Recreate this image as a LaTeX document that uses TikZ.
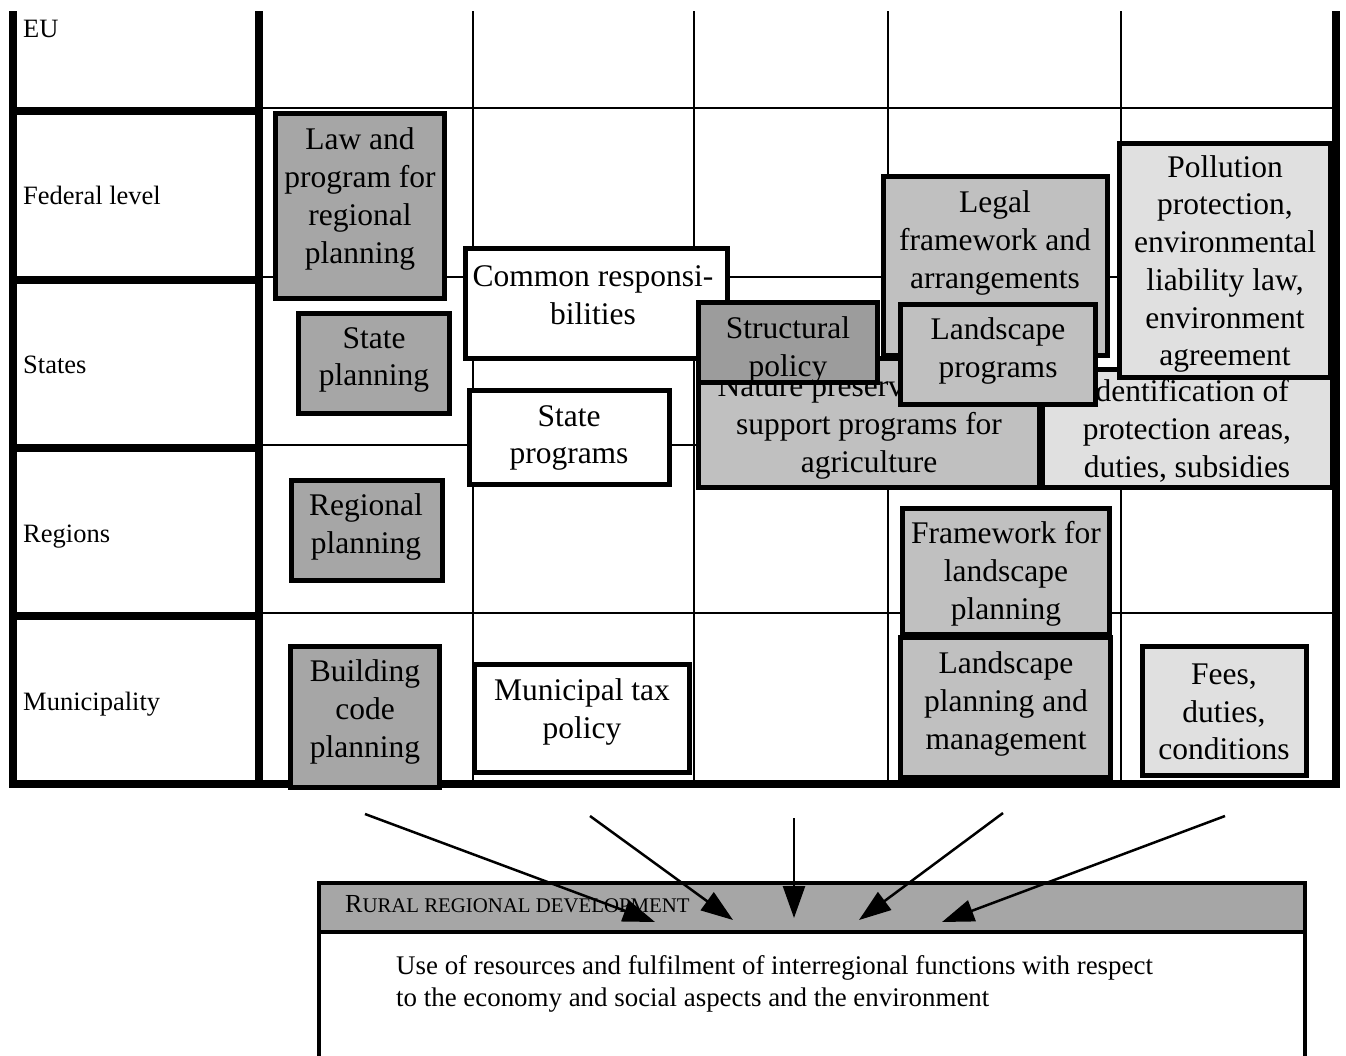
\documentclass[tikz,border=0pt]{standalone}
\usepackage{fontspec}
\setmainfont{Liberation Serif}
\usetikzlibrary{arrows.meta}
\definecolor{gdark}{HTML}{A6A6A6}
\definecolor{gstruct}{HTML}{9C9C9C}
\definecolor{gmid}{HTML}{C0C0C0}
\definecolor{glight}{HTML}{E0E0E0}
\newcommand\rrdBig[1]{{\fontsize{26}{30}\selectfont #1}}
\newcommand\rrdSmall[1]{{\fontsize{20.8}{30}\selectfont #1}}
\begin{document}
\begin{tikzpicture}[x=1pt,y=-1pt,
  thin grid/.style={line width=2pt},
  thick grid/.style={line width=7.5pt},
  cell/.style={draw=black, line width=5pt, line join=miter},
  boxtext/.style={inner sep=0pt, align=center, font=\fontsize{31.5}{37.7}\selectfont},
  rowlabel/.style={inner sep=0pt, anchor=base west, font=\fontsize{26.5}{30}\selectfont},
  arr/.style={line width=2.5pt, -{Triangle[length=32pt,width=22pt]}}
]
\useasboundingbox (0,0) rectangle (1346,1055);

% grid
\foreach \x in {473,694,888,1121} \draw[thin grid] (\x,11) -- (\x,784);
\foreach \y in {108,277,445,613} \draw[thin grid] (259,\y) -- (1336,\y);
\foreach \y in {111,280,448,616} \draw[thick grid] (13,\y) -- (259,\y);
\draw[thick grid] (13,11) -- (13,788);
\draw[thick grid] (259,11) -- (259,788);
\draw[thick grid] (1336,11) -- (1336,788);
\draw[thick grid] (9,784) -- (1340,784);

% row labels
\node[rowlabel] (eu) at (23,37) {EU};
\node[rowlabel] (fed) at (23,204) {Federal level};
\node[rowlabel] (states) at (23,373) {States};
\node[rowlabel] (regions) at (23,542) {Regions};
\node[rowlabel] (muni) at (23,710) {Municipality};

% boxes
\path[cell, fill=gdark] (275.5,113.5) rectangle (444.5,298.5);
\node[boxtext] (law) at (360,199) {Law and\\program for\\regional\\planning};

\path[cell, fill=gdark] (298.5,313.5) rectangle (449.5,413.5);
\node[boxtext] (stplan) at (374,360) {State\\planning};

\path[cell, fill=gdark] (291.5,480.5) rectangle (442.5,580.5);
\node[boxtext] (regplan) at (366,527) {Regional\\planning};

\path[cell, fill=gdark] (290.5,646.5) rectangle (439.5,787.5);
\node[boxtext] (build) at (365,712) {Building\\code\\planning};

\path[cell, fill=white] (465.5,248.5) rectangle (727.5,358.5);
\node[boxtext] (common) at (593,295) {Common responsi-\\bilities};

\path[cell, fill=white] (469.5,390.5) rectangle (669.5,484.5);
\node[boxtext] (stprog) at (569,438) {State\\programs};

\path[cell, fill=white] (474.5,664.5) rectangle (689.5,772.5);
\node[boxtext] (munic) at (582,712) {Municipal tax\\policy};

\path[cell, fill=glight] (1042.5,369.5) rectangle (1332.5,487.5);
\node[boxtext] (ident) at (1187,431) {Identification of\\protection areas,\\duties, subsidies};

\path[cell, fill=gmid] (698.5,358.5) rectangle (1039.5,487.5);
\node[boxtext] (nature) at (869,427) {Nature preservation and\\support programs for\\agriculture};

\path[cell, fill=gmid] (883.5,176.5) rectangle (1107.5,355.5);
\node[boxtext] (legal) at (995,243) {Legal\\framework and\\arrangements};

\path[cell, fill=gstruct] (698.5,302.5) rectangle (877.5,382.5);
\node[boxtext] (struct) at (788,350) {Structural\\policy};

\path[cell, fill=gmid] (900.5,304.5) rectangle (1095.5,404.5);
\node[boxtext] (lsprog) at (998,351) {Landscape\\programs};

\path[cell, fill=glight] (1119.5,143.5) rectangle (1330.5,377.5);
\node[boxtext] (poll) at (1225,264) {Pollution\\protection,\\environmental\\liability law,\\environment\\agreement};

\path[cell, fill=gmid] (902.5,508.5) rectangle (1109.5,634.5);
\node[boxtext] (flp) at (1006,574) {Framework for\\landscape\\planning};

\path[cell, fill=gmid] (900.5,637.5) rectangle (1110.5,777.5);
\node[boxtext] (lpm) at (1006,704) {Landscape\\planning and\\management};

\path[cell, fill=glight] (1142.5,646.5) rectangle (1306.5,775.5);
\node[boxtext] (fees) at (1224,712) {Fees,\\duties,\\conditions};

% bottom box
\path[draw, line width=4pt, fill=gdark] (319,883) rectangle (1305,932);
\draw[line width=4pt] (319,1060) -- (319,932) -- (1305,932) -- (1305,1060);
\node[anchor=base west, inner sep=0pt] (rrd) at (345,912) {\rrdBig{R}\rrdSmall{URAL REGIONAL DEVELOPMENT}};
\node[anchor=north west, inner sep=0pt, align=left, font=\fontsize{26.9}{32}\selectfont] (use) at (396,955.5)
  {Use of resources and fulfilment of interregional functions with respect\\to the economy and social aspects and the environment};

% arrows
\coordinate (s1) at (365,814); \coordinate (e1) at (655,922);
\coordinate (s2) at (590,816); \coordinate (e2) at (733,920);
\coordinate (s3) at (794,818); \coordinate (e3) at (794,918);
\coordinate (s4) at (1003,813); \coordinate (e4) at (859,920);
\coordinate (s5) at (1225,816); \coordinate (e5) at (942,922);
\foreach \i in {1,...,5} \draw[arr] (s\i) -- (e\i);
\end{tikzpicture}
\end{document}
